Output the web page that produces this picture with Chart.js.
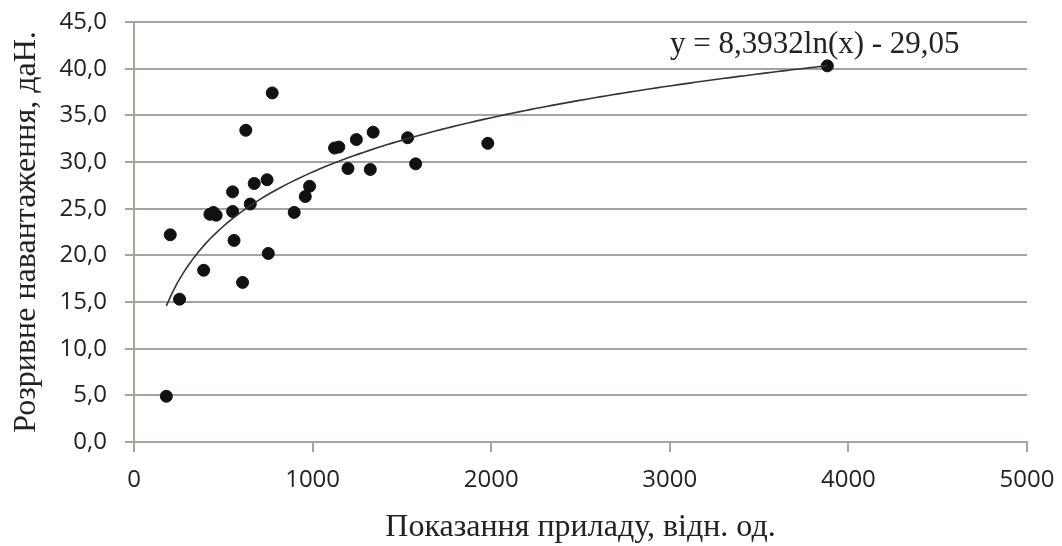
<!DOCTYPE html>
<html>
<head>
<meta charset="utf-8">
<script src="https://cdn.jsdelivr.net/npm/chart.js@4"></script>
<style>
  html, body { margin: 0; padding: 0; background: #fff; }
  #wrap { width: 1062px; height: 546px; }
</style>
</head>
<body>
<div id="wrap"><canvas id="chart"></canvas></div>
<script>
// readings of the instrument (x) and breaking load (y)
const pribor = [181, 203, 255, 390, 425, 445, 460, 552, 560, 552, 608, 626, 651, 673, 745, 752, 774,
  897, 959, 983, 1123, 1147, 1198, 1245, 1323, 1339, 1532, 1577, 1981, 3882];
const navantazh = [4.9, 22.2, 15.3, 18.4, 24.4, 24.6, 24.3, 26.8, 21.6, 24.7, 17.1, 33.4, 25.5, 27.7, 28.1, 20.2, 37.4,
  24.6, 26.3, 27.4, 31.5, 31.6, 29.3, 32.4, 29.2, 33.2, 32.6, 29.8, 32.0, 40.3];
const yTicks = [0, 5, 10, 15, 20, 25, 30, 35, 40, 45];
const xTicks = [0, 1000, 2000, 3000, 4000, 5000];
// logarithmic trend line from the chart: y = 8,3932ln(x) - 29,05
const trendA = 8.3932;
const trendB = -29.05;
const trendLabel = 'y = 8,3932ln(x) - 29,05';

const points = pribor.map((x, i) => ({ x: x, y: navantazh[i] }));
const xMin = Math.min(...pribor), xMax = Math.max(...pribor);
const trend = [];
for (let i = 0; i <= 120; i++) {
  const x = xMin + (xMax - xMin) * i / 120;
  trend.push({ x: x, y: trendA * Math.log(x) + trendB });
}

const gridCol = '#aaa39b';
const tickFont = { family: 'Open Sans', size: 24 };
const titleFont = { family: 'Liberation Serif', size: 32, lineHeight: 1.0 };

const eqLabel = {
  id: 'eqLabel',
  afterDatasetsDraw(chart) {
    const ctx = chart.ctx;
    const xs = chart.scales.x, ys = chart.scales.y;
    ctx.save();
    ctx.font = '31px "Liberation Serif"';
    ctx.fillStyle = '#222';
    ctx.textAlign = 'center';
    ctx.textBaseline = 'middle';
    ctx.fillText(trendLabel, xs.getPixelForValue(3812), ys.getPixelForValue(42.6));
    ctx.restore();
  }
};

new Chart(document.getElementById('chart'), {
  type: 'scatter',
  data: {
    datasets: [
      {
        label: 'trend',
        data: trend,
        showLine: true,
        borderColor: '#333',
        borderWidth: 1.6,
        pointRadius: 0,
        tension: 0
      },
      {
        label: 'data',
        data: points,
        backgroundColor: '#111',
        borderColor: '#111',
        borderWidth: 1,
        pointRadius: 6,
        pointHoverRadius: 6
      }
    ]
  },
  options: {
    responsive: true,
    maintainAspectRatio: false,
    animation: false,
    layout: { padding: { top: 22, right: 35, left: 0, bottom: 0 } },
    plugins: {
      legend: { display: false },
      tooltip: { enabled: false }
    },
    scales: {
      x: {
        type: 'linear',
        min: 0,
        max: 5000,
        afterBuildTicks: (s) => { s.ticks = xTicks.map(v => ({ value: v })); },
        afterFit: (s) => { s.height = 104; s.paddingLeft = 0; s.paddingRight = 0; },
        grid: {
          drawOnChartArea: false,
          drawTicks: true,
          tickLength: 10,
          color: gridCol,
          lineWidth: 2
        },
        border: { color: gridCol, width: 2 },
        ticks: {
          font: tickFont,
          color: '#222',
          padding: 14,
          maxRotation: 0,
          callback: (v) => String(v)
        },
        title: {
          display: true,
          text: 'Показання приладу, відн. од.',
          font: titleFont,
          color: '#222',
          padding: { top: 14, bottom: 2 }
        }
      },
      y: {
        min: 0,
        max: 45,
        afterBuildTicks: (s) => { s.ticks = yTicks.map(v => ({ value: v })); },
        afterFit: (s) => { s.width = 134; s.paddingTop = 0; s.paddingBottom = 0; },
        grid: {
          drawTicks: true,
          tickLength: 9,
          color: gridCol,
          lineWidth: 2
        },
        border: { color: gridCol, width: 2 },
        ticks: {
          font: tickFont,
          color: '#222',
          padding: 18,
          callback: (v) => v.toFixed(1).replace('.', ',')
        },
        title: {
          display: true,
          text: 'Розривне навантаження, даН.',
          font: titleFont,
          color: '#222',
          padding: { top: 11, bottom: 4 }
        }
      }
    }
  },
  plugins: [eqLabel]
});
</script>
</body>
</html>
